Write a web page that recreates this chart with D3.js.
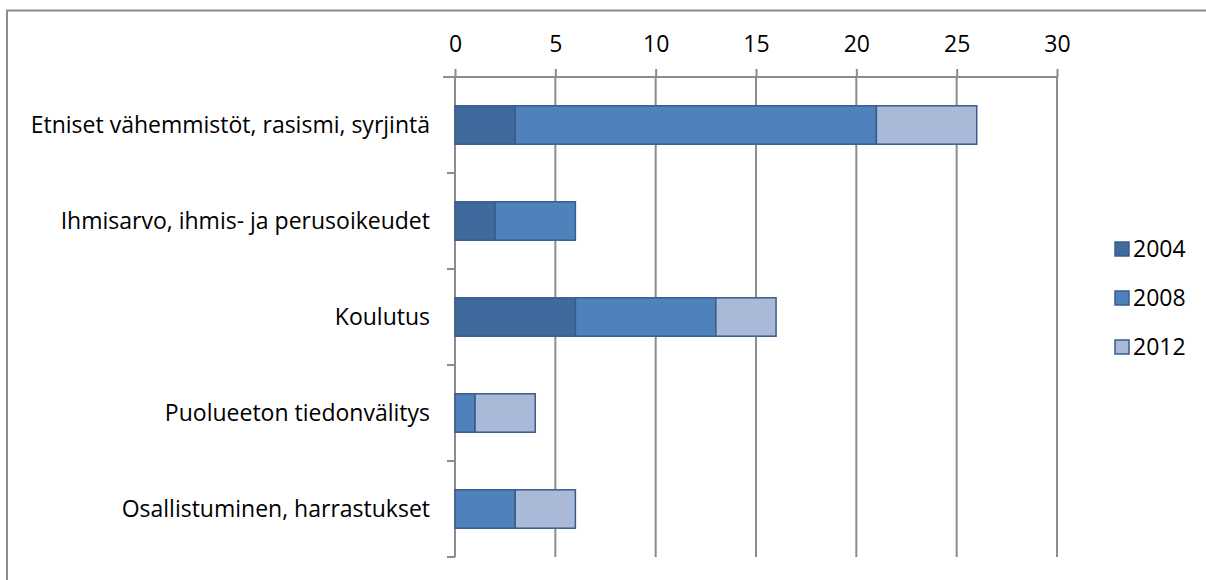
<!DOCTYPE html>
<head>
  <meta charset="utf-8">
  <script src="https://d3js.org/d3.v7.min.js"></script>
  <style>
    body { margin:0; background-color:#ffffff; }
    svg { display:block; font-family: "Open Sans", sans-serif; }
  </style>
</head>
<body>
<div class="chart-container"></div>
<script>
// chart data
var categories = ["Etniset vähemmistöt, rasismi, syrjintä", "Ihmisarvo, ihmis- ja perusoikeudet", "Koulutus", "Puolueeton tiedonvälitys", "Osallistuminen, harrastukset"];
var years = ["2004", "2008", "2012"];
var v2004 = [3, 2, 6, 0, 0];
var v2008 = [18, 4, 7, 1, 3];
var v2012 = [5, 0, 3, 3, 3];
var xTicks = [0, 5, 10, 15, 20, 25, 30];

var colors = {"2004": "#3f6a9e", "2008": "#4f81bd", "2012": "#aab9d7"};

var width = 1206, height = 580;
var fontSize = "23px";
var svg = d3.select(".chart-container").append("svg")
  .attr("width", width)
  .attr("height", height);

// frame (only top and left edges visible)
svg.append("path")
  .attr("d", "M7,580 V10.5 H1206")
  .attr("fill", "none")
  .attr("stroke", "#8c8c8c")
  .attr("stroke-width", 2);

var xScale = d3.scaleLinear().domain([0, 30]).range([455, 1057]);
var yScale = d3.scaleBand().domain(categories).range([77, 557]).paddingInner(0.6).paddingOuter(0.3);

// stack
var rows = categories.map(function(c, i) {
  return {cat: c, "2004": v2004[i], "2008": v2008[i], "2012": v2012[i]};
});
var stack = d3.stack().keys(years)(rows);

// gridlines
svg.append("g").selectAll("line")
  .data(xTicks.slice(1))
  .enter().append("line")
  .attr("x1", function(d) { return xScale(d); })
  .attr("x2", function(d) { return xScale(d); })
  .attr("y1", 77).attr("y2", 557)
  .attr("stroke", "#8c8c8c")
  .attr("stroke-width", 2);

// top axis
var xAxis = d3.axisTop(xScale).tickValues(xTicks).tickSize(8).tickPadding(17);
var gx = svg.append("g")
  .attr("transform", "translate(0,77)")
  .call(xAxis);
gx.select(".domain").remove();
gx.append("line").attr("x1", 443).attr("x2", 1057).attr("stroke", "#8c8c8c").attr("stroke-width", 2);
gx.selectAll(".tick line").attr("stroke", "#8c8c8c").attr("stroke-width", 2);
gx.selectAll(".tick text").attr("fill", "#000").style("font-size", fontSize).style("font-family", "'Open Sans', sans-serif");

// left axis
var bounds = categories.map(function(c) { return yScale(c) - yScale.step() * yScale.paddingInner() / 2; });
bounds.push(557);
var gy = svg.append("g");
gy.append("line").attr("x1", 455).attr("x2", 455).attr("y1", 77).attr("y2", 557)
  .attr("stroke", "#8c8c8c").attr("stroke-width", 2);
gy.selectAll(".yt").data(bounds.slice(1)).enter().append("line")
  .attr("x1", 447).attr("x2", 455)
  .attr("y1", function(d) { return d; }).attr("y2", function(d) { return d; })
  .attr("stroke", "#8c8c8c").attr("stroke-width", 2);
gy.selectAll("text").data(categories).enter().append("text")
  .attr("x", 430)
  .attr("y", function(d) { return yScale(d) + yScale.bandwidth() / 2; })
  .attr("dy", "0.35em")
  .attr("text-anchor", "end")
  .style("font-size", fontSize)
  .text(function(d) { return d; });

// bars
svg.append("g").selectAll("g")
  .data(stack)
  .enter().append("g")
  .attr("fill", function(d) { return colors[d.key]; })
  .selectAll("rect")
  .data(function(d) { return d.filter(function(p) { return p[1] - p[0] > 0; }); })
  .enter().append("rect")
  .attr("x", function(d) { return xScale(d[0]); })
  .attr("width", function(d) { return xScale(d[1]) - xScale(d[0]); })
  .attr("y", function(d) { return yScale(d.data.cat); })
  .attr("height", yScale.bandwidth())
  .attr("stroke", "#385d8a")
  .attr("stroke-width", 1.5);

// legend
var legend = svg.append("g").selectAll("g")
  .data(years)
  .enter().append("g")
  .attr("transform", function(d, i) { return "translate(1115," + (249 + i * 49) + ")"; });
legend.append("rect")
  .attr("x", 0).attr("y", -7).attr("width", 14).attr("height", 14)
  .attr("fill", function(d) { return colors[d]; })
  .attr("stroke", "#385d8a").attr("stroke-width", 1.5);
legend.append("text")
  .attr("x", 18).attr("dy", "0.35em")
  .style("font-size", fontSize)
  .text(function(d) { return d; });
</script>
</body>
